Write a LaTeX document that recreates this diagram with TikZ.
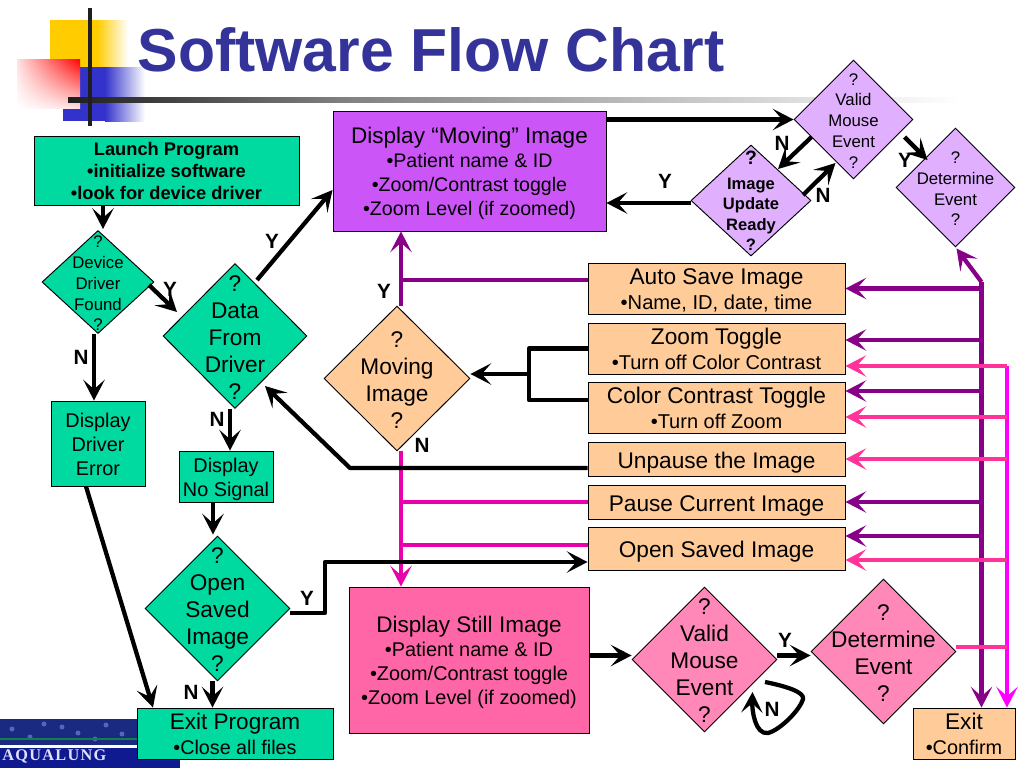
\documentclass[tikz,border=0pt]{standalone}
\usepackage{fontspec}
\setmainfont{Liberation Sans}
\newfontfamily\logofont[LetterSpace=8]{Liberation Serif}
\usetikzlibrary{arrows.meta,shapes.geometric,shadings}

\definecolor{tealc}{HTML}{00D9A0}
\definecolor{purpa}{HTML}{CC55F8}
\definecolor{purpb}{HTML}{E0B0FF}
\definecolor{orang}{HTML}{FFCC99}
\definecolor{pinka}{HTML}{FF66A8}
\definecolor{pinkb}{HTML}{FF88B8}
\definecolor{purpl}{HTML}{880088}
\definecolor{magen}{HTML}{E800AC}
\definecolor{fucsi}{HTML}{FF00FF}
\definecolor{rosso}{HTML}{FF3399}
\definecolor{azul}{HTML}{333399}
\definecolor{amari}{HTML}{FFCC00}
\definecolor{bluec}{HTML}{3333CC}
\definecolor{logoa}{HTML}{1A2A80}
\definecolor{logob}{HTML}{101A90}

\newcommand{\dlin}[1]{\smash{\raisebox{-.42em}{\makebox[0pt]{\begin{tabular}[c]{@{}c@{}}#1\end{tabular}}}}}
\newcommand{\fsz}[2]{\fontsize{#1pt}{#2pt}\selectfont}

\begin{document}
\begin{tikzpicture}[
    x=0.75pt,y=-0.75pt,
    caja/.style={rectangle,draw,line width=0.7pt,inner sep=0pt},
    rombo/.style={diamond,aspect=1,draw,line width=0.7pt,inner sep=0pt},
    sz/.style n args={2}{minimum width=#1*0.75pt,minimum height=#2*0.75pt},
    linea/.style={line width=3.2pt,line join=round},
    flecha/.style={linea,-{Stealth[length=15.5pt,width=16pt,inset=7pt]}},
    etiq/.style={font=\fsz{15.5}{18}\bfseries,inner sep=0pt},
    fg/.style={font=\fsz{17}{20.3}},
    fm/.style={font=\fsz{12.6}{15.6}},
    fd/.style={font=\fsz{14.9}{18}}]

  \fill[white] (0,0) rectangle (1024,768);
  \useasboundingbox (0,0) rectangle (1024,768);

  % corner squares and rule
  \fill[amari] (50,20) rectangle (97,68);
  \shade[left color=amari,right color=white] (97,20) rectangle (128,68);
  \fill[bluec] (63,67) rectangle (105,121);
  \shade[left color=bluec,right color=white] (105,67) rectangle (145,121);
  \shade[shading=bilinear interpolation,upper right=red,upper left=red!12,lower left=white,lower right=red!12] (17,59) rectangle (80,108);
  \shade[left color=black!88,right color=black!50] (68,97.5) rectangle (340,102.5);
  \shade[left color=black!50,right color=white] (340,97.5) rectangle (960,102.5);
  \fill[black!88] (88.3,8) rectangle (91.7,126);

  % logo
  \fill[logoa] (0,719) rectangle (137,745);
  \foreach \x/\y in {44/724,106/725,78/733,30/737,95/739,12/729,62/727,122/734}
    \fill[blue!30!logoa!70!white] (\x,\y) circle (2.5);
  \draw[green!40!logoa,line width=1pt] (0,739) -- (137,739);
  \fill[logob] (0,748) rectangle (180,768);
  \node[inner sep=0pt,anchor=base west,text=blue!12!white,font=\logofont\bfseries\fsz{12.2}{14}] (logo) at (2,760) {AQUALUNG};

  \node[anchor=base,text=azul,inner sep=0pt,font=\fsz{45.5}{50}\bfseries] (titulo) at (431,71) {Software Flow Chart};

  \node[caja,fill=tealc,sz={265}{69},font=\fsz{13.7}{16.5}\bfseries] (lp) at (166.5,170.5)
    {\dlin{Launch Program\\•initialize software\\•look for device driver}};
  \node[rombo,fill=tealc,sz={112}{103},fm] (ddf) at (98,282) {\dlin{?\\Device\\Driver\\Found\\?}};
  \node[caja,fill=tealc,sz={94}{85},fd] (ddr) at (98,443.5) {\dlin{Display\\Driver\\Error}};
  \node[rombo,fill=tealc,sz={144}{145},fg] (dfd) at (235,336) {\dlin{?\\Data\\From\\Driver\\?}};
  \node[caja,fill=tealc,sz={94}{51},fd] (dns) at (226,476.5) {\dlin{Display\\No Signal}};
  \node[rombo,fill=tealc,sz={145}{145},fg] (osi) at (217.5,608.5) {\dlin{?\\Open\\Saved\\Image\\?}};
  \node[caja,fill=tealc,sz={196}{51},font=\fsz{14.8}{18.3}] (ep) at (235,733.5)
    {\dlin{{\fsz{16.9}{19}Exit Program}\\•Close all files}};

  \node[caja,fill=purpa,sz={273}{120},font=\fsz{14.7}{18.1}] (dmi) at (469.5,171)
    {\dlin{{\fsz{16.9}{19}Display “Moving” Image}\\•Patient name \& ID\\•Zoom/Contrast toggle\\•Zoom Level (if zoomed)}};
  \node[rombo,fill=purpb,sz={119}{119},fm] (vme) at (853.5,119.5) {\dlin{?\\Valid\\Mouse\\Event\\?}};
  \node[rombo,fill=purpb,sz={120}{111},font=\fsz{12.4}{15.4}\bfseries] (iur) at (751,200.5) {\dlin{{\fsz{14.5}{15.4}?}\\[3pt]Image\\Update\\Ready\\?}};
  \node[rombo,fill=purpb,sz={119}{119},fm] (det) at (955.5,187.5) {\dlin{?\\Determine\\Event\\?}};

  \node[caja,fill=orang,sz={257}{51},font=\fsz{15.1}{18.3}] (asi) at (716.5,288.5)
    {\dlin{{\fsz{17}{20}Auto Save Image}\\•Name, ID, date, time}};
  \node[caja,fill=orang,sz={257}{51},font=\fsz{15}{18.3}] (zt) at (716.5,348.5)
    {\dlin{{\fsz{17}{20}Zoom Toggle}\\•Turn off Color Contrast}};
  \node[caja,fill=orang,sz={257}{51},font=\fsz{15}{18.3}] (cct) at (716.5,407.5)
    {\dlin{{\fsz{17}{20}Color Contrast Toggle}\\•Turn off Zoom}};
  \node[caja,fill=orang,sz={257}{34},font=\fsz{17}{20}] (uti) at (716.5,459) {\dlin{Unpause the Image}};
  \node[caja,fill=orang,sz={257}{34},font=\fsz{17}{20}] (pci) at (716.5,502) {\dlin{Pause Current Image}};
  \node[caja,fill=orang,sz={257}{43},font=\fsz{17}{20}] (osv) at (716.5,548.5) {\dlin{Open Saved Image}};
  \node[rombo,fill=orang,sz={146}{145},fg] (mi) at (397,378.5) {\dlin{?\\Moving\\Image\\?}};

  \node[caja,fill=pinka,sz={240}{146},font=\fsz{14.9}{18.2}] (dsi) at (469,660)
    {\dlin{{\fsz{16.9}{19}Display Still Image}\\•Patient name \& ID\\•Zoom/Contrast toggle\\•Zoom Level (if zoomed)}};
  \node[rombo,fill=pinkb,sz={145}{145},fg] (vmp) at (704.5,659.5) {\dlin{?\\Valid\\Mouse\\Event\\?}};
  \node[rombo,fill=pinkb,sz={145}{145},fg] (dtp) at (883.5,651.5) {\dlin{?\\Determine\\Event\\?}};
  \node[caja,fill=orang,sz={102}{51},font=\fsz{14.9}{18.3}] (ex) at (964,733.5)
    {\dlin{{\fsz{17}{20}Exit}\\•Confirm}};

  \coordinate (tm) at ([shift={(4,0)}]mi.north);
  \coordinate (tn) at ([shift={(4,0)}]mi.south);
  \coordinate (tp) at (981.5,282);
  \coordinate (tr) at (1007,366);
  \coordinate (kz) at (529,374);
  \coordinate (ku) at (350,468);
  \coordinate (ka) at (325,613);
  \coordinate (kb) at (325,562);

  % moving / still trunks
  \draw[flecha,purpl] (tm) -- (tm |- dmi.south);
  \draw[linea,purpl] ([shift={(0,-8.5)}]asi.west) -- ([shift={(0,-8.5)}]asi.west -| tm);
  \draw[flecha,magen] (tn) -- (tn |- dsi.north);
  \draw[linea,magen] (pci.west) -- (pci.west -| tn);
  \draw[linea,magen] ([shift={(0,-3.5)}]osv.west) -- ([shift={(0,-3.5)}]osv.west -| tn);

  % left column
  \draw[flecha] ([shift={(5,0)}]ddf.north |- lp.south) -- ([shift={(5,-1)}]ddf.north);
  \draw[flecha] ([shift={(51,3)}]ddf.center) -- ([shift={(-58,-24)}]dfd.center);
  \draw[flecha] ([shift={(-4,0)}]ddf.south) -- ([shift={(-4,0)}]ddf.south |- ddr.north);
  \draw[flecha] ([shift={(22,-56)}]dfd.center) -- ([shift={(0,19)}]dmi.west);
  \draw[flecha] ([shift={(-5,0)}]dfd.south) -- ([shift={(-5,0)}]dfd.south |- dns.north);
  \draw[flecha] ([shift={(-13,0)}]dns.south) -- ([shift={(-13,-1)}]dns.south |- osi.north);
  \draw[flecha] ([shift={(-12,0)}]ddr.south) -- ([shift={(-82,0)}]ep.north);
  \draw[flecha] ([shift={(-5,0)}]osi.south) -- ([shift={(-5,0)}]osi.south |- ep.north);
  \draw[flecha] ([shift={(0,4.5)}]osi.east) -- (ka) -- (kb) -- ([shift={(0,13.5)}]osv.west);

  % top right
  \draw[flecha] (dmi.east |- vme.west) -- (vme.west);
  \draw[flecha] ([shift={(0,2.5)}]iur.west) -- ([shift={(0,2.5)}]iur.west -| dmi.east);
  \draw[flecha] ([shift={(-42,17.5)}]vme.center) -- ([shift={(27,-31.5)}]iur.center);
  \draw[flecha] ([shift={(52,-5.5)}]iur.center) -- ([shift={(-18,43.5)}]vme.center);
  \draw[flecha] ([shift={(51,17.5)}]vme.center) -- ([shift={(-28,-27.5)}]det.center);

  % black return lines
  \draw[linea] (zt.west) -- (zt.west -| kz) -- ([shift={(0,-7.5)}]cct.west -| kz) -- ([shift={(0,-7.5)}]cct.west);
  \draw[flecha] (kz) -- (kz -| mi.east);
  \draw[flecha] ([shift={(0,9)}]uti.west) -- (ku) -- ([shift={(30,50)}]dfd.center);

  % right trunks
  \draw[flecha,purpl] (tp) -- ([shift={(1,1)}]det.south);
  \draw[flecha,purpl] (tp) -- (tp |- ex.north);
  \foreach \n/\d in {asi/0,zt/-8.5,cct/-16.5,pci/0,osv/-12.5}
    \draw[flecha,purpl] ([shift={(0,\d)}]\n.east -| tp) -- ([shift={(0,\d)}]\n.east);
  \draw[flecha,fucsi] (tr) -- (tr |- ex.north);
  \foreach \n/\d in {zt/17.5,cct/9.5,uti/0,osv/11.5}
    \draw[flecha,rosso] ([shift={(0,\d)}]\n.east -| tr) -- ([shift={(0,\d)}]\n.east);
  \draw[linea,rosso] ([shift={(0,-4.5)}]dtp.east) -- ([shift={(0,-4.5)}]dtp.east -| tr);

  % bottom row
  \draw[flecha] ([shift={(0,-4)}]vmp.west -| dsi.east) -- ([shift={(0,-4)}]vmp.west);
  \draw[flecha] ([shift={(0,-4)}]vmp.east) -- ([shift={(0,4)}]dtp.west);
  \draw[flecha] ([shift={(24,-14)}]vmp.south east) .. controls (785,686) and (805,692) .. (803,699)
    .. controls (800,710) and (780,730) .. (768,733)
    .. controls (755,735) and (752,710) .. ([shift={(11.5,-4)}]vmp.south east);

  % labels
  \node[etiq] (y1) at (170,289) {Y};
  \node[etiq] (n1) at (81,357)  {N};
  \node[etiq] (y2) at (272,241) {Y};
  \node[etiq] (n2) at (217,419) {N};
  \node[etiq] (n3) at (191,692) {N};
  \node[etiq] (y3) at (307,598) {Y};
  \node[etiq] (n4) at (782,143) {N};
  \node[etiq] (n5) at (823,195) {N};
  \node[etiq] (y4) at (905,160) {Y};
  \node[etiq] (y5) at (665,181) {Y};
  \node[etiq] (y6) at (384,291) {Y};
  \node[etiq] (n6) at (422,445) {N};
  \node[etiq] (y7) at (785,640) {Y};
  \node[etiq] (n7) at (772,709) {N};

\end{tikzpicture}
\end{document}
